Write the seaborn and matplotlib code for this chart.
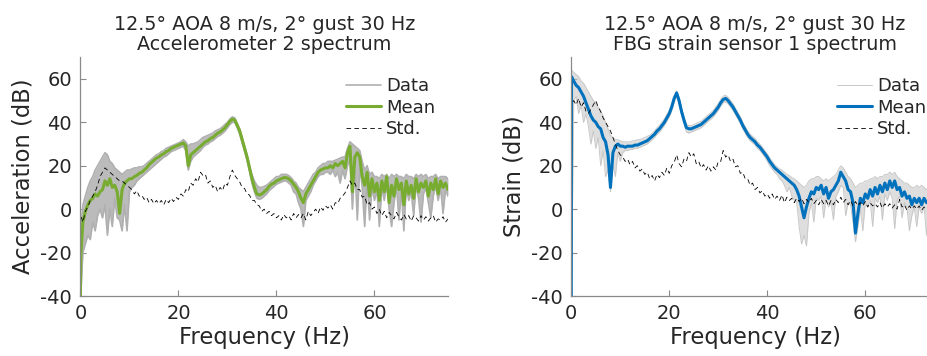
import numpy as np
import pandas as pd
import matplotlib
matplotlib.use("Agg")
import matplotlib.pyplot as plt
import seaborn as sns

# ================================
# Data (dB), 0.5 Hz grid plus the f=0 edge
# ================================
freq = np.r_[0.0, 0.05, np.arange(0.5, 75.01, 0.5)]

acc_mean = [-40, -22,
            -6, -1, 2, 4, 5, 7, 6, 8, 9, 13,
            11, 14, 10, 11, 8, -2, 9, 12, 13, 14,
            14, 15, 15.5, 16.5, 17, 18, 19, 20.5, 21.5, 22.5,
            23.5, 24, 25, 25.5, 26.5, 27, 28, 28.5, 29, 29.5,
            30, 30.5, 29, 20, 25, 26, 27, 28, 29, 30,
            31, 31.5, 32.5, 33, 34, 35, 35.5, 36.5, 37.5, 39,
            40.5, 41.5, 41, 38.5, 36, 32, 28, 24, 19, 14,
            10, 7, 6.5, 7, 8, 9, 10.5, 11.5, 12, 13,
            13.5, 14, 14.5, 14.5, 14, 13, 11.5, 10, 8, 5,
            3, 7, 9, 11, 13, 15, 17, 18, 18.5, 19,
            19, 20, 19, 21, 20, 21, 22, 19, 26, 29,
            8, 24, 26, 24, 15, 11, 17, 6, 14, 8,
            12, 4, 13, 8, 15, 3, 11, 6, 14, 9,
            12, 2, 13, 7, 11, 5, 14, 8, 12, 10,
            13, 6, 12, 9, 14, 7, 13, 10, 12, 9]

acc_hi = [-35, -10,
          2, 6, 10, 13, 15, 18, 20, 22, 24, 26,
          25, 22, 21, 19, 18, 17, 16, 17, 18, 18,
          18.5, 19, 19, 19.5, 19.5, 20, 21, 22, 23, 24,
          25, 25.5, 26.5, 27, 28, 28.5, 29, 29.5, 30, 30.5,
          31, 32, 31, 29, 30, 30, 30.5, 31, 32, 33,
          33.5, 34, 34.5, 35, 36, 36.5, 37, 38, 39, 40,
          41.5, 42.5, 42, 39.5, 37, 33, 29, 25, 20, 16,
          13, 11, 10, 10, 10.5, 11, 12, 13, 14, 15,
          15, 16, 16, 16, 15.5, 14.5, 13, 12, 10, 9,
          8, 10, 12, 14, 16, 17, 19, 20, 21, 21,
          22, 22, 22, 22.5, 23, 23.5, 24, 24, 28, 31,
          30, 29, 28, 27, 22, 18, 20, 16, 17, 15,
          15, 14, 16, 15, 16, 14, 16, 15, 16, 15,
          15, 14, 16, 15, 15, 14, 16, 15, 16, 15,
          16, 14, 15, 15, 16, 14, 15, 15, 15, 14]

acc_lo = [-40, -40,
          -20, -16, -12, -14, -6, -10, -3, 0, -4, 2,
          -12, 0, -8, 5, -4, -5, -10, 2, -10, 8,
          10, 11, 13, 14, 15, 16, 17, 18, 19, 20,
          21, 22, 23, 24, 24.5, 25.5, 26.5, 27, 27.5, 28,
          28.5, 29, 27, 18, 22, 24, 25, 26, 27, 28.5,
          29.5, 30, 31, 31.5, 32.5, 33.5, 34, 35, 36, 37.5,
          39, 40, 40, 37.5, 34.5, 30.5, 26.5, 22.5, 17.5, 12,
          8, 5, 4.5, 5, 6, 7, 8.5, 9.5, 10.5, 11.5,
          12, 12.5, 13, 13, 12, 11, 8, 7, 3, 0,
          -8, 4, 6, 8, 11, 13, 15, 16, 16, 17,
          17, 16, 18, 15, 17, 12, 18, 14, 20, 23,
          0, 20, -5, 20, 10, -8, 13, -5, 10, 4,
          9, -8, 10, 4, 12, 0, -8, 3, 11, -5,
          9, -10, 10, 4, 8, -3, 11, 5, -6, 7,
          10, 3, -4, 6, 11, 4, 10, -2, 9, 6]

acc_std = [0, -3,
           -6, -1, 1, 4, 6, 8, 11, 15, 17, 19,
           18, 17, 16, 15, 14, 13, 13, 12, 11, 10,
           9, 7, 8.5, 6, 6.5, 4.5, 5.5, 3, 4.5, 2.5,
           4, 2.5, 4, 2, 4.5, 3, 5, 3.5, 5.5, 4.5,
           7, 6, 9, 8, 12, 11, 14, 12.5, 17, 15.5,
           16, 12, 13, 10, 11, 8, 10, 8.5, 12, 11,
           15, 18, 15.5, 14, 12.5, 10, 9.5, 7, 6.5, 4,
           4, 2, 1.5, -1, 0, -2, -1, -3, -2, -4,
           -3, -5, -2.5, -4, -3, -5, -2, -4, -2.5, -4,
           -2, -5, -1, -3, -1.5, 0, -2, 1, -0.5, 1.5,
           0.5, 2, 0, 3, 2.5, 5, 6, 7.5, 10, 13,
           11, 12, 9, 9, 5.5, 6, 2, 3, 0, 1,
           -2, 0, -3, -1, -4, -1.5, -3, -4.5, -1.5, -3.5,
           -5, -2.5, -4.5, -3, -5.5, -3, -4, -5.5, -3, -5,
           -3.5, -5.5, -4, -3, -6, -4.5, -5, -3.5, -6, -4.5]

fbg_mean = [-40, 61,
            59, 57, 56, 54, 52, 49, 46, 43, 41, 40,
            38, 37, 33, 31, 25, 10, 26, 29, 30, 29,
            29, 28.5, 29, 29, 29, 29.5, 29.5, 30, 30.5, 31,
            31.5, 32.5, 33.5, 34.5, 36, 37, 38.5, 40, 42, 44,
            47, 51, 53.5, 50, 45, 41, 37.5, 37, 37, 37.5,
            38, 38.5, 39, 40, 41, 42, 43, 44, 45.5, 47,
            49, 50.5, 51, 50, 48.5, 47, 45, 43, 41, 38.5,
            36.5, 34.5, 33, 32, 31, 29.5, 28.5, 27, 25.5, 24,
            22, 20.5, 19, 18, 17, 16, 15, 14, 13, 12,
            11, 9, 6, 1, -4, 1, 5, 8, 7, 10,
            9, 11, 7, 10, 5, 8, 9, 11, 13, 17,
            15, 13, 9, 8, 3, -11, -2, 5, 3, 7,
            5, 9, 6, 10, 7, 11, 8, 12, 9, 13,
            10, 13, 9, 10, 6, 8, 5, 6, 2, 5,
            3, 5, 2, 5, 3, 4, 1, 4, 2, 3]

fbg_hi = [-40, 64,
          63, 62, 61, 59, 58, 56, 54, 52, 50, 49,
          47, 45, 43, 40, 37, 34, 33, 32, 32, 31.5,
          31, 31, 31, 31, 31.5, 31.5, 32, 32, 32.5, 33,
          33.5, 34, 35, 36, 37.5, 38.5, 40, 41.5, 43.5, 45.5,
          48.5, 52, 54.5, 51.5, 46.5, 42.5, 39, 38.5, 38.5, 39,
          39.5, 40, 40.5, 41.5, 42.5, 43.5, 44.5, 45.5, 47, 48.5,
          50.5, 52, 52.5, 51.5, 50, 48.5, 46.5, 44.5, 42.5, 40,
          38, 36, 34.5, 33.5, 32.5, 31, 30, 28.5, 27, 25.5,
          23.5, 22, 20.5, 19.5, 18.5, 18, 17, 16, 15.5, 14.5,
          14, 13, 12, 11, 10, 11, 13, 14, 14, 15,
          15, 14, 13, 14, 13, 14, 15, 16, 18, 20,
          19, 17, 15, 14, 12, 10, 11, 12, 12, 13,
          13, 14, 14, 15, 14, 15, 15, 16, 16, 17,
          16, 17, 15, 14, 13, 12, 12, 11, 10, 10,
          11, 10, 11, 10, 9, 10, 9, 9, 8, 8]

fbg_lo = [-40, -40,
          50, 52, 44, 48, 40, 44, 38, 30, 36, 28,
          33, 20, 27, 15, 18, 8, 20, 15, 26, 22,
          26, 27, 27, 27.5, 27.5, 28, 28, 28.5, 29, 29.5,
          30, 31, 32, 33, 34.5, 35.5, 37, 38.5, 40.5, 42.5,
          45.5, 49.5, 52, 48.5, 43.5, 39.5, 35.5, 35, 35.5, 36,
          36.5, 37, 37.5, 38.5, 39.5, 40.5, 41.5, 42.5, 44, 45.5,
          47.5, 49, 49.5, 48.5, 47, 45.5, 43.5, 41.5, 39.5, 37,
          35, 33, 31.5, 30.5, 29.5, 28, 27, 25.5, 24, 22,
          20, 18.5, 17, 16, 14, 13, 11, 8, 10, 6,
          4, 3, -8, -16, -12, -17, -2, 3, -6, 5,
          4, 6, -4, 5, 1, 3, -5, 6, 8, 11,
          10, -3, 3, 2, -6, -15, -8, 0, -10, 3,
          1, 4, -8, 5, 3, 6, -5, 7, 4, 8,
          5, -9, 4, 6, -4, 3, 1, -10, -3, 1,
          -8, 1, -2, 1, -12, 0, -3, 0, -4, -18]

fbg_std = [46, 48,
           50, 48, 51, 47, 49, 45, 44, 46, 48, 50,
           47, 45, 42, 40, 38, 36, 33, 30, 27, 25,
           24, 22, 23, 20.5, 22, 19, 20, 17.5, 18.5, 16,
           17, 14, 15.5, 13, 16, 14.5, 17, 15.5, 19, 16.5,
           20, 21.5, 25, 21, 19.5, 23, 22, 26, 24, 25.5,
           21, 22, 19, 20.5, 18, 20, 17.5, 19.5, 18, 22,
           22, 27, 24, 25, 22, 23, 19.5, 20, 16.5, 17,
           14, 14, 11, 12, 9, 10, 7.5, 8.5, 6, 7,
           5, 7, 4.5, 6, 4, 6.5, 3, 5.5, 4, 5,
           3, 5, 3.5, 5, 2.5, 4.5, 3, 5, 2.5, 4,
           2, 4.5, 2.5, 4, 1.5, 4, 2, 4.5, 3, 5.5,
           3, 4.5, 2, 4, 1.5, 3.5, 1.5, 3, 1.5, 3.5,
           1, 3, 1.5, 2.5, 1, 3, 0.5, 2.5, 1, 2.5,
           0.5, 2, 0, 4.5, 1, 2, -0.5, 1.5, 0, 1.5,
           0, 1.5, -0.5, 1, 0, 1.5, -1, 1, -0.5, 0.5]

title_top = "12.5° AOA 8 m/s, 2° gust 30 Hz"
panels = [
    ("Accelerometer 2 spectrum", "Acceleration (dB)", acc_hi, acc_lo, acc_mean, acc_std,
     "#77ac30", "#b0b0b0", 1.2, 0.85),
    ("FBG strain sensor 1 spectrum", "Strain (dB)", fbg_hi, fbg_lo, fbg_mean, fbg_std,
     "#0072bd", "#c8c8c8", 0.7, 0.6),
]

# ================================
# Plot
# ================================
sns.set_theme(style="ticks")
plt.rcParams["font.family"] = ["DejaVu Sans"]
plt.rcParams["axes.unicode_minus"] = False
text_col = "#262626"
axis_col = "#8a8a8a"

fig = plt.figure(figsize=(9.28, 3.56), dpi=100)
positions = [[0.0867, 0.1685, 0.396, 0.671], [0.6156, 0.1685, 0.396, 0.671]]

for pos, (sub, ylab, hi, lo, mean, std, mcol, dcol, dlw, falpha) in zip(positions, panels):
    ax = fig.add_axes(pos)
    df = pd.DataFrame({"f": freq, "hi": hi, "lo": lo, "mean": mean, "std": std})

    # gray band of the individual runs
    ax.fill_between(df["f"], df["lo"], df["hi"], color=dcol, lw=0, alpha=falpha)
    sns.lineplot(data=df, x="f", y="lo", ax=ax, color=dcol, lw=dlw, sort=False,
                 estimator=None, label="_nolegend_")
    sns.lineplot(data=df, x="f", y="hi", ax=ax, color=dcol, lw=dlw, sort=False,
                 estimator=None, label="Data")
    sns.lineplot(data=df, x="f", y="mean", ax=ax, color=mcol, lw=2.2, sort=False,
                 estimator=None, label="Mean")
    sns.lineplot(data=df, x="f", y="std", ax=ax, color="black", lw=0.6, sort=False,
                 estimator=None, label="Std.", linestyle=(0, (5.5, 4)))

    ax.set_xlim(0, 75)
    ax.set_ylim(-40, 70)
    ax.set_xticks([0, 20, 40, 60])
    ax.set_yticks([-40, -20, 0, 20, 40, 60])
    ax.set_xlabel("Frequency (Hz)", fontsize=16.3, color=text_col, labelpad=2)
    ax.set_ylabel(ylab, fontsize=16.3, color=text_col, labelpad=4)
    ax.set_title(title_top + "\n" + sub, fontsize=13.8, color=text_col, pad=5,
                 linespacing=1.05)
    sns.despine(ax=ax)
    for s in ["left", "bottom"]:
        ax.spines[s].set_color(axis_col)
        ax.spines[s].set_linewidth(0.9)
    ax.tick_params(direction="in", length=4, width=0.8, color=axis_col,
                   labelsize=14, labelcolor=text_col, pad=6)

    leg = ax.legend(loc="upper right", bbox_to_anchor=(1.0, 0.97), frameon=False,
                    fontsize=13, handlelength=1.9, handletextpad=0.3,
                    labelspacing=0.2, borderaxespad=0.3)
    for t in leg.get_texts():
        t.set_color(text_col)

fig.savefig("out.png", dpi=100)
